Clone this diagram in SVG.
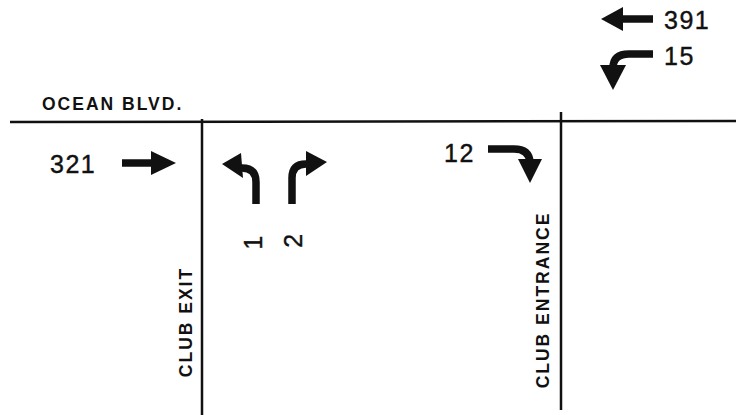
<svg xmlns="http://www.w3.org/2000/svg" width="736" height="415" viewBox="0 0 736 415">
<style>
.road{stroke:#111;stroke-width:2.5;fill:none}
.shaft{stroke:#111;stroke-width:7.5;fill:none}
.head{fill:#111}
.num{font-family:"Liberation Sans",Arial,sans-serif;font-size:25px;fill:#111;stroke:#111;stroke-width:0.4;letter-spacing:1.5px}
.lbl{font-family:"Liberation Sans",Arial,sans-serif;font-size:17.5px;font-weight:bold;fill:#111;letter-spacing:2px}
</style>
<rect width="736" height="415" fill="#fff"/>
<g id="roads">
<line class="road" x1="10" y1="122" x2="736" y2="121"/>
<line class="road" x1="202" y1="119" x2="202" y2="415"/>
<line class="road" x1="561" y1="112" x2="561" y2="410"/>
</g>
<text class="lbl" x="42" y="110">OCEAN BLVD.</text>
<text class="num" x="50" y="173">321</text>
<text class="num" x="664" y="29">391</text>
<text class="num" x="664" y="65">15</text>
<text class="num" x="444" y="162">12</text>
<text class="num" transform="translate(262,242) rotate(-90)" text-anchor="middle">1</text>
<text class="num" transform="translate(302,240) rotate(-90)" text-anchor="middle">2</text>
<text class="lbl" transform="translate(192,322) rotate(-90)" text-anchor="middle">CLUB EXIT</text>
<text class="lbl" transform="translate(549,300) rotate(-90)" text-anchor="middle">CLUB ENTRANCE</text>
<g id="connectors">
<g id="a321">
<line class="shaft" x1="122" y1="163" x2="156" y2="163"/>
<polygon class="head" points="176,163 151,151 151,175"/>
</g>
<g id="a391">
<line class="shaft" x1="653" y1="19" x2="618" y2="19"/>
<polygon class="head" points="601,19 623,7 623,31"/>
</g>
<g id="a15">
<path class="shaft" d="M653,54 L629,54 Q613,54 613,68 L613,70"/>
<polygon class="head" points="613,90 600,65 626,65"/>
</g>
<g id="aLeft">
<path class="shaft" d="M256,204 L256,182 Q256,168 242,168 L238,168"/>
<polygon class="head" points="222,164 241,153 243,178"/>
</g>
<g id="aRight">
<path class="shaft" d="M292,204 L292,178 Q292,164 306,164 L310,164"/>
<polygon class="head" points="327,162 306,151 306,176"/>
</g>
<g id="a12">
<path class="shaft" d="M488,149 L514,149 Q529,149 530,162 L530,164"/>
<polygon class="head" points="530,183 518,159 542,159"/>
</g>
</g>
</svg>
